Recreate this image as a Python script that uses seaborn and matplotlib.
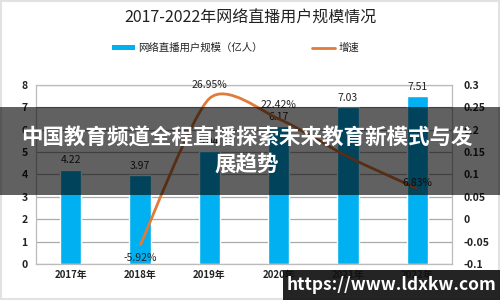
import matplotlib
matplotlib.use("Agg")
import matplotlib.pyplot as plt
import seaborn as sns
import numpy as np
import pandas as pd
from matplotlib.path import Path
from matplotlib.patches import PathPatch, Rectangle
from matplotlib.lines import Line2D

years = ["2017年", "2018年", "2019年", "2020年", "2021年", "2022年"]
users = [4.22, 3.97, 5.04, 6.17, 7.03, 7.51]
growth_years = ["2018年", "2019年", "2020年", "2021年", "2022年"]
growth = [-0.0592, 0.2695, 0.2242, 0.1394, 0.0683]
growth_labels = ["-5.92%", "26.95%", "22.42%", "", "6.83%"]
left_ticks = [0, 1, 2, 3, 4, 5, 6, 7, 8]
right_ticks = [-0.1, -0.05, 0, 0.05, 0.1, 0.15, 0.2, 0.25, 0.3]
right_tick_labels = ["-0.1", "-0.05", "0", "0.05", "0.1", "0.15", "0.2", "0.25", "0.3"]

sns.set_theme(style="white")
plt.rcParams['font.family'] = ['Noto Sans CJK SC', 'DejaVu Sans']

BLUE = "#00B0F0"
ORANGE = "#E07B39"

fig = plt.figure(figsize=(5, 3), dpi=100)
fig.patch.set_facecolor("white")
ax = fig.add_axes([0.072, 0.12, 0.832, 0.597])

df = pd.DataFrame({"year": years, "users": users})
sns.barplot(data=df, x="year", y="users", color=BLUE, width=0.31, ax=ax, saturation=1)
ax.set_ylim(0, 8)
ax.set_xlim(-0.5, 5.5)
ax.set_yticks(left_ticks)
ax.set_yticklabels([str(t) for t in left_ticks], fontsize=7.5, fontweight="bold", color="#222222")
ax.set_xlabel("")
ax.set_ylabel("")
ax.tick_params(axis="x", labelsize=7, pad=4, colors="#222222", length=0)
ax.tick_params(axis="y", length=0, pad=6)
for lbl in ax.get_xticklabels():
    lbl.set_fontweight("bold")
ax.yaxis.grid(True, color="#AAAAAA", linewidth=0.9)
ax.set_axisbelow(True)
for s in ax.spines.values():
    s.set_color("#BBBBBB")
    s.set_linewidth(0.9)

for i, v in enumerate(users):
    ax.text(i, v + 0.18, f"{v:.2f}", ha="center", va="bottom", fontsize=7.5, color="#222222")

ax2 = ax.twinx()
ax2.set_ylim(-0.1, 0.3)
ax2.set_yticks(right_ticks)
ax2.set_yticklabels(right_tick_labels, fontsize=7.5, fontweight="bold", color="#222222")
ax2.tick_params(axis="y", length=0, pad=8)
ax2.grid(False)
for s in ax2.spines.values():
    s.set_visible(False)

# smoothed growth line (cardinal spline -> cubic Bezier through the data points)
xs = [years.index(y) for y in growth_years]
pts = np.array(list(zip(xs, growth)), dtype=float)
verts = [tuple(pts[0])]
codes = [Path.MOVETO]
n = len(pts)
k = 1 / 8.0
for i in range(n - 1):
    p0 = pts[i - 1] if i > 0 else pts[i]
    p1 = pts[i]
    p2 = pts[i + 1]
    p3 = pts[i + 2] if i + 2 < n else pts[i + 1]
    c1 = p1 + (p2 - p0) * k
    c2 = p2 - (p3 - p1) * k
    verts += [tuple(c1), tuple(c2), tuple(p2)]
    codes += [Path.CURVE4, Path.CURVE4, Path.CURVE4]
ax2.add_patch(PathPatch(Path(verts, codes), facecolor="none", edgecolor=ORANGE, linewidth=2))

offsets = {"-5.92%": (0, -0.027), "26.95%": (0, 0.031), "22.42%": (0, 0.03), "6.83%": (0, 0.012)}
for x, g, lab in zip(xs, growth, growth_labels):
    if not lab:
        continue
    dx, dy = offsets[lab]
    ax2.text(x + dx, g + dy, lab, ha="center", va="center", fontsize=7.5, color="#222222")

# title and legend
fig.text(0.5, 0.94, "2017-2022年网络直播用户规模情况", ha="center", va="center", fontsize=11.5, color="#222222")
fig.patches.append(Rectangle((0.224, 0.832), 0.046, 0.018, transform=fig.transFigure, facecolor=BLUE, edgecolor="none"))
fig.text(0.276, 0.841, "网络直播用户规模（亿人）", ha="left", va="center", fontsize=7.5, color="#222222")
fig.lines.append(Line2D([0.624, 0.670], [0.841, 0.841], transform=fig.transFigure, color=ORANGE, linewidth=2))
fig.text(0.678, 0.841, "增速", ha="left", va="center", fontsize=7.5, color="#222222")

# overlay banner
fig.patches.append(Rectangle((0, 0.35), 1, 0.293, transform=fig.transFigure, facecolor="#000000", alpha=0.62, edgecolor="none", zorder=10))
fig.text(0.494, 0.54, "中国教育频道全程直播探索未来教育新模式与发", ha="center", va="center", fontsize=15.5, fontweight="bold", color="white", zorder=11)
fig.text(0.494, 0.452, "展趋势", ha="center", va="center", fontsize=15.5, fontweight="bold", color="white", zorder=11)

# watermark
fig.patches.append(Rectangle((0.566, 0.0), 0.434, 0.1, transform=fig.transFigure, facecolor="#111111", alpha=0.92, edgecolor="none", zorder=10))
fig.text(0.783, 0.05, "https://www.ldxkw.com", ha="center", va="center", fontsize=12.5, fontweight="bold", color="white", zorder=11)

# faint outer frame
fig.patches.append(Rectangle((0.002, 0.004), 0.996, 0.992, transform=fig.transFigure, facecolor="none", edgecolor="#E2E2E2", linewidth=1.5, zorder=9))

fig.savefig("out.png", dpi=100)
